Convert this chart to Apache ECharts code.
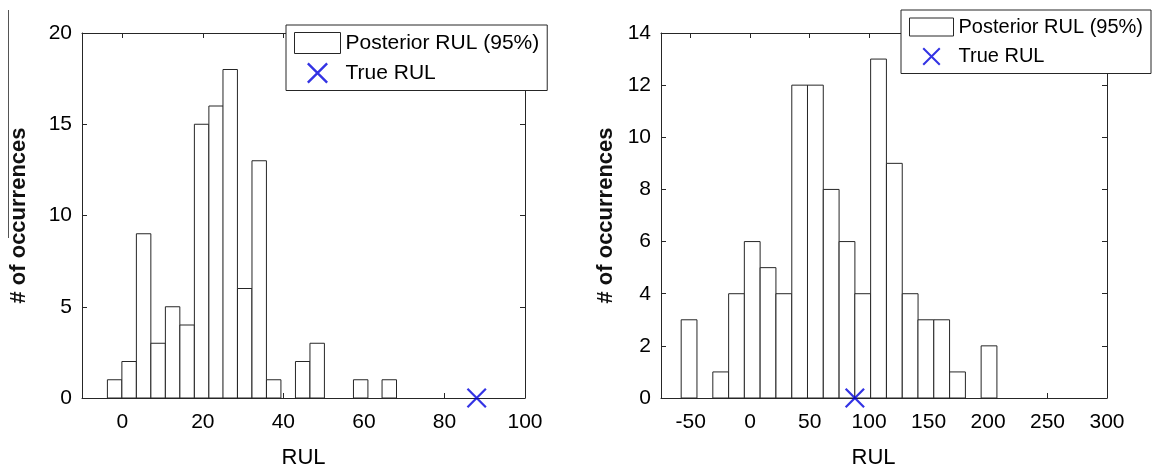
<!DOCTYPE html>
<html>
<head>
<meta charset="utf-8">
<script src="https://cdn.jsdelivr.net/npm/echarts@6/dist/echarts.min.js"></script>
<style>
  html, body { margin: 0; padding: 0; background: #fff; }
  #chart { width: 1158px; height: 472px; }
</style>
</head>
<body>
<div id="chart"></div>
<script>
// Left panel: histogram of posterior RUL samples (bin centres and counts)
const leftCenters = [-1.9, 1.7, 5.3, 8.9, 12.5, 16.1, 19.7, 23.3, 26.8, 30.4, 34.0, 37.6, 41.2, 44.8, 48.4, 52.0, 55.6, 59.2, 62.7, 66.3];
const leftCounts  = [1, 2, 9, 3, 5, 4, 15, 16, 18, 6, 13, 1, 0, 2, 3, 0, 0, 1, 0, 1];
const leftBinWidth = 3.59;
const leftTrueRUL = [88, 0];
const leftXTicks = [0, 20, 40, 60, 80, 100];
const leftYTicks = [0, 5, 10, 15, 20];

// Right panel
const rightCenters = [-51.4, -38.1, -24.8, -11.5, 1.7, 15.0, 28.3, 41.6, 54.8, 68.1, 81.4, 94.6, 107.9, 121.2, 134.5, 147.7, 161.0, 174.3, 187.5, 200.8];
const rightCounts  = [3, 0, 1, 4, 6, 5, 4, 12, 12, 8, 6, 4, 13, 9, 4, 3, 3, 1, 0, 2];
const rightBinWidth = 13.27;
const rightTrueRUL = [88, 0];
const rightXTicks = [-50, 0, 50, 100, 150, 200, 250, 300];
const rightYTicks = [0, 2, 4, 6, 8, 10, 12, 14];

const FONT = "'Liberation Sans', Arial, sans-serif";
const AXIS_COLOR = '#262626';
const MARK_BLUE = '#0000dd';
const X_SYMBOL = 'path://M1.6,0 L20,18.4 L18.4,20 L0,1.6 Z M18.4,0 L20,1.6 L1.6,20 L0,18.4 Z';

function binData(centers, counts, width) {
  return centers.map((c, i) => [c - width / 2, c + width / 2, counts[i]]);
}

function renderBin(params, api) {
  const h = api.value(2);
  if (!h) return null;
  const p0 = api.coord([api.value(0), h]);
  const p1 = api.coord([api.value(1), 0]);
  return {
    type: 'rect',
    shape: { x: p0[0], y: p0[1], width: p1[0] - p0[0], height: p1[1] - p0[1] },
    style: { fill: '#ffffff', stroke: AXIS_COLOR, lineWidth: 1 }
  };
}

function mainXAxis(grid, min, max, ticks, nameShift) {
  return {
    type: 'value', gridIndex: grid, position: 'bottom', min: min, max: max,
    name: 'RUL', nameLocation: 'middle', nameGap: 49,
    nameTextStyle: { fontFamily: FONT, fontSize: 22, color: '#000', padding: [0, nameShift, 0, 0] },
    axisLine: { show: true, onZero: false, lineStyle: { color: AXIS_COLOR, width: 1 } },
    axisTick: { show: true, inside: true, length: 5, customValues: ticks, lineStyle: { color: AXIS_COLOR } },
    axisLabel: { show: true, margin: 14, customValues: ticks, fontFamily: FONT, fontSize: 21, color: '#000' },
    splitLine: { show: false }
  };
}
function topXAxis(grid, min, max, ticks) {
  return {
    type: 'value', gridIndex: grid, position: 'top', min: min, max: max,
    axisLine: { show: true, onZero: false, lineStyle: { color: AXIS_COLOR, width: 1 } },
    axisTick: { show: true, inside: true, length: 5, customValues: ticks, lineStyle: { color: AXIS_COLOR } },
    axisLabel: { show: false }, splitLine: { show: false }
  };
}
function mainYAxis(grid, min, max, ticks, gap) {
  return {
    type: 'value', gridIndex: grid, position: 'left', min: min, max: max,
    name: '# of occurrences', nameLocation: 'middle', nameGap: gap, nameRotate: 90,
    nameTextStyle: { fontFamily: FONT, fontSize: 22, fontWeight: 'bold', color: '#111' },
    axisLine: { show: true, onZero: false, lineStyle: { color: AXIS_COLOR, width: 1 } },
    axisTick: { show: true, inside: true, length: 5, customValues: ticks, lineStyle: { color: AXIS_COLOR } },
    axisLabel: { show: true, margin: 10, customValues: ticks, fontFamily: FONT, fontSize: 21, color: '#000' },
    splitLine: { show: false }
  };
}
function rightYAxis(grid, min, max, ticks) {
  return {
    type: 'value', gridIndex: grid, position: 'right', min: min, max: max,
    axisLine: { show: true, onZero: false, lineStyle: { color: AXIS_COLOR, width: 1 } },
    axisTick: { show: true, inside: true, length: 5, customValues: ticks, lineStyle: { color: AXIS_COLOR } },
    axisLabel: { show: false }, splitLine: { show: false }
  };
}

function legendFor(left, top, fontSize, itemW, itemH, gap) {
  return {
    left: left, top: top, orient: 'vertical',
    backgroundColor: '#ffffff', borderColor: AXIS_COLOR, borderWidth: 1, borderRadius: 0,
    padding: [7, 8, 7, 8], itemGap: gap, itemWidth: itemW, itemHeight: itemH,
    textStyle: { fontFamily: FONT, fontSize: fontSize, color: '#000', lineHeight: fontSize },
    selectedMode: false,
    data: [
      { name: 'Posterior RUL (95%)', icon: 'rect',
        itemStyle: { color: '#ffffff', borderColor: AXIS_COLOR, borderWidth: 1 } },
      { name: 'True RUL', icon: X_SYMBOL, itemStyle: { color: MARK_BLUE, borderWidth: 0 } }
    ]
  };
}

const chart = echarts.init(document.getElementById('chart'), null, { renderer: 'canvas' });
chart.setOption({
  backgroundColor: '#ffffff',
  animation: false,
  grid: [
    { left: 82, top: 33, width: 443, height: 365, outerBoundsMode: 'none', containLabel: false },
    { left: 661, top: 33, width: 446, height: 365, outerBoundsMode: 'none', containLabel: false }
  ],
  xAxis: [
    mainXAxis(0, -10, 100, leftXTicks, 0),
    topXAxis(0, -10, 100, leftXTicks),
    mainXAxis(1, -75, 300, rightXTicks, 21),
    topXAxis(1, -75, 300, rightXTicks)
  ],
  yAxis: [
    mainYAxis(0, 0, 20, leftYTicks, 52),
    rightYAxis(0, 0, 20, leftYTicks),
    mainYAxis(1, 0, 14, rightYTicks, 44),
    rightYAxis(1, 0, 14, rightYTicks)
  ],
  legend: [
    legendFor(286, 25, 21, 46, 21, 8.5),
    legendFor(901, 10, 20, 44, 18, 9.5)
  ],
  graphic: [
    { type: 'line', shape: { x1: 8.5, y1: 10, x2: 8.5, y2: 238 }, style: { stroke: '#555', lineWidth: 1 } }
  ],
  series: [
    { name: 'Posterior RUL (95%)', type: 'custom', xAxisIndex: 0, yAxisIndex: 0,
      renderItem: renderBin, encode: { x: [0, 1], y: 2 },
      data: binData(leftCenters, leftCounts, leftBinWidth) },
    { name: 'True RUL', type: 'scatter', xAxisIndex: 0, yAxisIndex: 0,
      symbol: X_SYMBOL, symbolSize: 20, clip: false,
      itemStyle: { color: MARK_BLUE }, data: [leftTrueRUL], z: 5 },
    { name: 'Posterior RUL (95%)', type: 'custom', xAxisIndex: 2, yAxisIndex: 2,
      renderItem: renderBin, encode: { x: [0, 1], y: 2 },
      data: binData(rightCenters, rightCounts, rightBinWidth) },
    { name: 'True RUL', type: 'scatter', xAxisIndex: 2, yAxisIndex: 2,
      symbol: X_SYMBOL, symbolSize: 20, clip: false,
      itemStyle: { color: MARK_BLUE }, data: [rightTrueRUL], z: 5 }
  ]
});
</script>
</body>
</html>
